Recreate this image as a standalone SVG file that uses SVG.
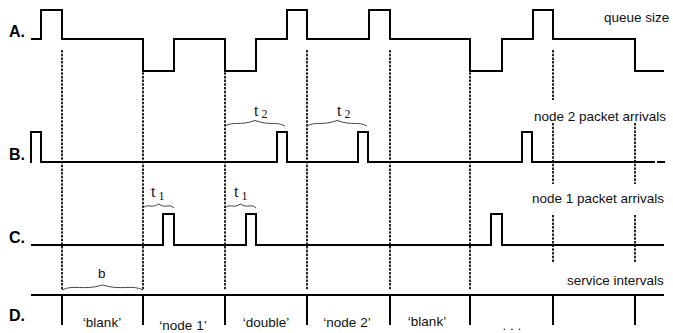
<svg xmlns="http://www.w3.org/2000/svg" width="673" height="333" viewBox="0 0 673 333">
<style>
.sig{fill:none;stroke:#000;stroke-width:2;stroke-linejoin:miter}
.grid{fill:none;stroke:#000;stroke-width:1.7;stroke-dasharray:2.5 1.2}
.brace{fill:none;stroke:#444;stroke-width:1}
.lbl{font-family:"Liberation Sans",Arial,sans-serif;font-size:13.5px;fill:#111}
.row{font-family:"Liberation Sans",Arial,sans-serif;font-weight:bold;font-size:16px;fill:#000}
.t{font-family:"Liberation Serif","Times New Roman",serif;font-size:16px;fill:#111}
.sub{font-size:12px}
.mid{text-anchor:middle}
</style>
<rect width="673" height="333" fill="#fff"/>
<g id="connectors">
  <path class="grid" d="M62,50V290M143,50V290M225,50V290M307,50V290M390,50V290M470,50V290"/>
  <path class="grid" d="M553,50V100M553,123V184M553,215V263M635,123V184M635,215V263"/>
</g>
<g id="rowA">
  <text class="row" x="9" y="37">A.</text>
  <path class="sig" d="M31,39H41V10H62V39H143V71H174V39H225V71H256V39H287V10H307V39H369V10H390V39H470V71H502V39H533V10H553V39H635V71H664"/>
  <text class="lbl" x="604" y="22">queue size</text>
</g>
<g id="rowB">
  <text class="row" x="9" y="160">B.</text>
  <path class="sig" d="M31,163V132H41V162H277V132H287V162H358V132H368V162H522V132H532V162H655M657,162H665"/>
  <text class="lbl" x="534" y="121">node 2 packet arrivals</text>
  <path class="brace" d="M225,126C234,121 240,126 255,120.5C270,126 276,121 285,126"/>
  <text class="t" x="254" y="116">t<tspan class="sub" dx="3" dy="2">2</tspan></text>
  <path class="brace" d="M307,126C316,121 322,126 337,120.5C352,126 358,121 367,126"/>
  <text class="t" x="337" y="116">t<tspan class="sub" dx="3" dy="2">2</tspan></text>
</g>
<g id="rowC">
  <text class="row" x="9" y="243">C.</text>
  <path class="sig" d="M31,245H163V214H174V245H246V214H256V245H491V214H502V245H664"/>
  <text class="lbl" x="532" y="203">node 1 packet arrivals</text>
  <path class="brace" d="M143,208C148,203 151,209 158.5,204C166,209 169,203 174,208"/>
  <text class="t" x="151" y="197">t<tspan class="sub" dx="3" dy="3">1</tspan></text>
  <path class="brace" d="M225,208C230,203 233,209 240.5,204C248,209 251,203 256,208"/>
  <text class="t" x="234" y="197">t<tspan class="sub" dx="3" dy="3">1</tspan></text>
</g>
<g id="rowD">
  <text class="row" x="9" y="321">D.</text>
  <path class="sig" d="M31,295H664M62,295V325M143,295V325M225,295V325M307,295V325M390,295V325M470,295V325M553,295V325M635,295V325"/>
  <text class="lbl" x="567" y="285">service intervals</text>
  <path class="brace" d="M62,290C74,284 83,291 102.5,285C122,291 131,284 143,290"/>
  <text class="lbl" x="98" y="278">b</text>
  <text class="lbl mid" x="102" y="327">‘blank’</text>
  <text class="lbl mid" x="183" y="330">‘node 1’</text>
  <text class="lbl mid" x="266" y="327">‘double’</text>
  <text class="lbl mid" x="347" y="327">‘node 2’</text>
  <text class="lbl mid" x="427" y="326">‘blank’</text>
  <text class="lbl mid" x="512" y="330">. . .</text>
</g>
</svg>
